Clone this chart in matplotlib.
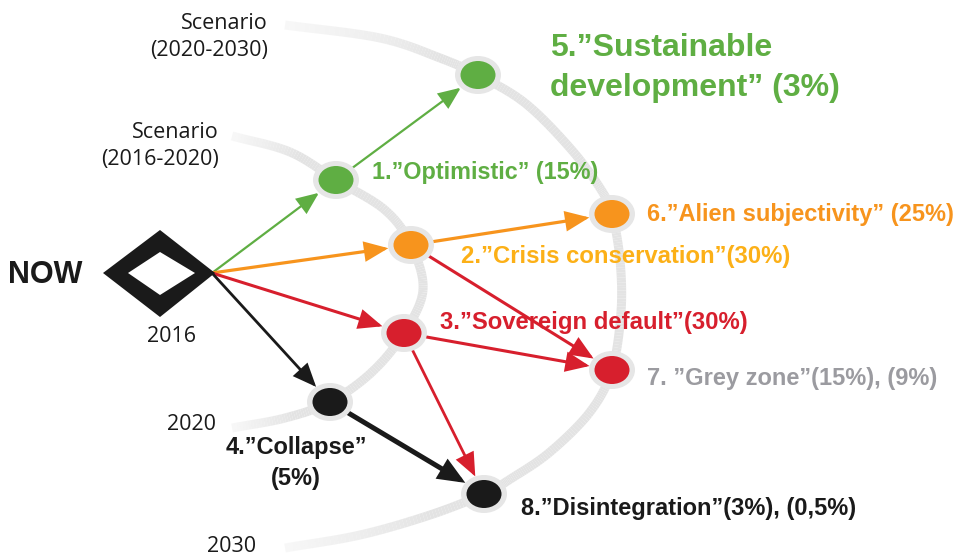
import numpy as np
import matplotlib
matplotlib.use("Agg")
import matplotlib.pyplot as plt
from matplotlib.patches import Ellipse, Polygon, FancyArrowPatch
from matplotlib.collections import LineCollection

# ---- data ----
node_names = ["1", "2", "3", "4", "5", "6", "7", "8"]
node_x = [336, 411, 404, 330, 478, 612, 612, 484]
node_y = [180, 245, 333, 402, 75, 214, 370, 494]
node_colors = ["#5fae43", "#f7941d", "#d71f2d", "#1a1a1a",
               "#5fae43", "#f7941d", "#d71f2d", "#1a1a1a"]

now_xy = (160, 273)

edges_from = ["NOW", "1", "NOW", "2", "NOW", "2", "3", "3", "NOW", "4"]
edges_to = ["1", "5", "2", "6", "3", "7", "7", "8", "4", "8"]
edge_colors = ["#5fae43", "#5fae43", "#f7941d", "#f7941d", "#d71f2d",
               "#d71f2d", "#d71f2d", "#d71f2d", "#1a1a1a", "#1a1a1a"]
edge_widths = [1.6, 1.6, 2.3, 2.3, 2.2, 2.2, 2.2, 2.0, 2.0, 3.6]

arc1_x = [232, 290, 336, 385, 411, 423, 404, 372, 330, 285, 232]
arc1_y = [136, 152, 180, 210, 245, 290, 333, 372, 402, 418, 428]
arc2_x = [285, 380, 440, 478, 525, 570, 600, 612, 620, 621, 612, 590, 550, 512, 484, 430, 360, 285]
arc2_y = [25, 38, 58, 75, 103, 148, 188, 214, 260, 312, 370, 412, 452, 478, 494, 515, 535, 548]

labels = ["1.\u201dOptimistic\u201d (15%)",
          "2.\u201dCrisis conservation\u201d(30%)",
          "3.\u201dSovereign default\u201d(30%)",
          "4.\u201dCollapse\u201d\n(5%)",
          "5.\u201dSustainable\ndevelopment\u201d (3%)",
          "6.\u201dAlien subjectivity\u201d (25%)",
          "7. \u201dGrey zone\u201d(15%), (9%)",
          "8.\u201dDisintegration\u201d(3%), (0,5%)"]
label_colors = ["#5fae43", "#fcb017", "#d71f2d", "#1a1a1a",
                "#5fae43", "#f7941d", "#9b9ba0", "#1a1a1a"]

year_labels = ["2016", "2020", "2030"]
scenario_labels = ["Scenario\n(2016-2020)", "Scenario\n(2020-2030)"]

# ---- drawing ----
W, H = 959, 557
fig = plt.figure(figsize=(W / 100, H / 100), dpi=100)
ax = fig.add_axes([0, 0, 1, 1])
ax.set_xlim(0, W)
ax.set_ylim(H, 0)
ax.axis("off")
ax.set_aspect("auto")


def catmull(xs, ys, n=20):
    P = np.column_stack([xs, ys]).astype(float)
    P = np.vstack([P[0] * 2 - P[1], P, P[-1] * 2 - P[-2]])
    out = []
    for i in range(1, len(P) - 2):
        p0, p1, p2, p3 = P[i - 1], P[i], P[i + 1], P[i + 2]
        for t in np.linspace(0, 1, n, endpoint=False):
            t2, t3 = t * t, t * t * t
            out.append(0.5 * ((2 * p1) + (-p0 + p2) * t +
                              (2 * p0 - 5 * p1 + 4 * p2 - p3) * t2 +
                              (-p0 + 3 * p1 - 3 * p2 + p3) * t3))
    out.append(P[-2])
    return np.array(out)


def draw_arc(xs, ys):
    pts = catmull(xs, ys)
    segs = np.stack([pts[:-1], pts[1:]], axis=1)
    n = len(segs)
    s = np.linspace(0, 1, n)
    fade = np.clip(np.minimum(s, 1 - s) / 0.12, 0, 1)
    cols = [(0.89, 0.89, 0.89, 0.25 + 0.75 * f) for f in fade]
    lc = LineCollection(segs, colors=cols, linewidths=6.5, capstyle="butt", zorder=1)
    ax.add_collection(lc)


draw_arc(arc1_x, arc1_y)
draw_arc(arc2_x, arc2_y)

# NOW diamond
cx, cy = now_xy
outer = [(cx - 57, cy), (cx, cy - 43), (cx + 55, cy), (cx, cy + 44)]
inner = [(cx - 32, cy), (cx, cy - 21), (cx + 35, cy), (cx, cy + 22)]
ax.add_patch(Polygon(outer, closed=True, facecolor="#1a1a1a", edgecolor="none", zorder=6))
ax.add_patch(Polygon(inner, closed=True, facecolor="white", edgecolor="none", zorder=7))

pos = {n: (x, y) for n, x, y in zip(node_names, node_x, node_y)}
pos["NOW"] = (cx + 52, cy)

RX, RY = 23, 19


def edge_point(p, q, rx, ry):
    dx, dy = q[0] - p[0], q[1] - p[1]
    L = np.hypot(dx, dy)
    ux, uy = dx / L, dy / L
    r = 1 / np.sqrt((ux / rx) ** 2 + (uy / ry) ** 2)
    return (p[0] + ux * r, p[1] + uy * r)


for a, b, c, lw in zip(edges_from, edges_to, edge_colors, edge_widths):
    p, q = pos[a], pos[b]
    if a == "NOW":
        start = p
    else:
        start = edge_point(p, q, RX, RY)
    end = edge_point(q, p, RX, RY)
    arr = FancyArrowPatch(start, end, arrowstyle="-|>,head_length=0.9,head_width=0.38",
                          mutation_scale=15, color=c, lw=lw, shrinkA=0, shrinkB=0,
                          zorder=4, joinstyle="miter")
    ax.add_patch(arr)

for n, x, y, c in zip(node_names, node_x, node_y, node_colors):
    ax.add_patch(Ellipse((x, y), 46, 38, facecolor="#e6e6e6", edgecolor="none", zorder=5))
    ax.add_patch(Ellipse((x, y), 35, 28, facecolor=c, edgecolor="none", zorder=6))

bold = dict(family=["Liberation Sans", "DejaVu Sans"], fontweight="bold")
reg = dict(family=["Open Sans", "DejaVu Sans"])

ax.text(8, 275, "NOW", fontsize=22, color="#1a1a1a", va="center", ha="left", **bold)

ax.text(268, 37, scenario_labels[1], fontsize=15.5, color="#1a1a1a", ha="right", va="center",
        linespacing=1.38, **reg)
ax.text(219, 146, scenario_labels[0], fontsize=15.5, color="#1a1a1a", ha="right", va="center",
        linespacing=1.38, **reg)
ax.text(172, 337, year_labels[0], fontsize=15.5, color="#1a1a1a", ha="center", va="center", **reg)
ax.text(191, 425, year_labels[1], fontsize=15.5, color="#1a1a1a", ha="center", va="center", **reg)
ax.text(232, 546, year_labels[2], fontsize=15.5, color="#1a1a1a", ha="center", va="center", **reg)

lab_pos = [(372, 172, "left", 16.8, 1.15), (461, 256, "left", 17.2, 1.15),
           (440, 323, "left", 17.2, 1.15), (296, 463, "center", 17, 1.4),
           (550, 68, "left", 23, 1.4), (647, 215, "left", 17, 1.15),
           (647, 378, "left", 17, 1.15), (521, 509, "left", 17, 1.15)]
for t, c, (x, y, ha, fs, ls) in zip(labels, label_colors, lab_pos):
    ax.text(x, y, t, color=c, fontsize=fs, ha=ha, va="center", linespacing=ls,
            zorder=8, **bold)

fig.savefig("out.png", dpi=100)
